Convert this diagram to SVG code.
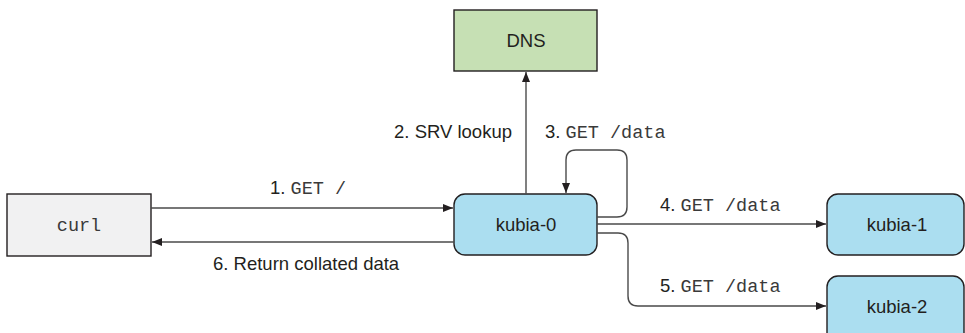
<svg xmlns="http://www.w3.org/2000/svg" width="965" height="333" viewBox="0 0 965 333">
<defs>
<marker id="ah" viewBox="0 0 10 8" refX="10" refY="4" markerWidth="10" markerHeight="8" markerUnits="userSpaceOnUse" orient="auto">
<path d="M0,0 L10,4 L0,8 Z" fill="#231f20"/>
</marker>
<style>
.box{stroke:#231f20;stroke-width:1.4}
.pod{fill:#abdef0}
.t{font-family:"Liberation Sans",Arial,sans-serif;font-size:18.5px;fill:#231f20}
.m{font-family:"Liberation Mono","Courier New",monospace;font-size:18.5px;fill:#3a3a3a}
.c{text-anchor:middle}
.ln{fill:none;stroke:#4a4a4a;stroke-width:1.4}
</style>
</defs>
<rect width="965" height="333" fill="#ffffff"/>
<g id="dns">
<rect class="box" x="454" y="10" width="143" height="61" fill="#c6e0b4"/>
<text class="t c" x="526" y="47">DNS</text>
</g>
<g id="curl">
<rect class="box" x="7" y="194" width="144" height="62" fill="#f1f1f2"/>
<text class="m c" x="79" y="231">curl</text>
</g>
<g id="kubia-0">
<rect class="box pod" x="454" y="194" width="143" height="61" rx="11"/>
<text class="t c" x="526" y="231">kubia-0</text>
</g>
<g id="kubia-1">
<rect class="box pod" x="827" y="194" width="137" height="61" rx="11"/>
<text class="t c" x="897" y="231">kubia-1</text>
</g>
<g id="kubia-2">
<rect class="box pod" x="827" y="276" width="137" height="70" rx="11"/>
<text class="t c" x="897" y="313">kubia-2</text>
</g>
<g id="connectors">
<path class="ln" d="M151,208 H453" marker-end="url(#ah)"/>
<path class="ln" d="M454,242 H152" marker-end="url(#ah)"/>
<path class="ln" d="M526,194 V72" marker-end="url(#ah)"/>
<path class="ln" d="M597,217 H617 Q627,217 627,207 V160 Q627,150 617,150 H576 Q566,150 566,160 V193" marker-end="url(#ah)"/>
<path class="ln" d="M597,224 H826" marker-end="url(#ah)"/>
<path class="ln" d="M597,233 H618 Q628,233 628,243 V296 Q628,306 638,306 H826" marker-end="url(#ah)"/>
</g>
<g id="labels">
<text x="270" y="194"><tspan class="t">1. </tspan><tspan class="m">GET /</tspan></text>
<text class="t" x="213" y="270">6. Return collated data</text>
<text class="t" x="512" y="138" text-anchor="end">2. SRV lookup</text>
<text x="545" y="138"><tspan class="t">3. </tspan><tspan class="m">GET /data</tspan></text>
<text x="660" y="211"><tspan class="t">4. </tspan><tspan class="m">GET /data</tspan></text>
<text x="660" y="292"><tspan class="t">5. </tspan><tspan class="m">GET /data</tspan></text>
</g>
</svg>
